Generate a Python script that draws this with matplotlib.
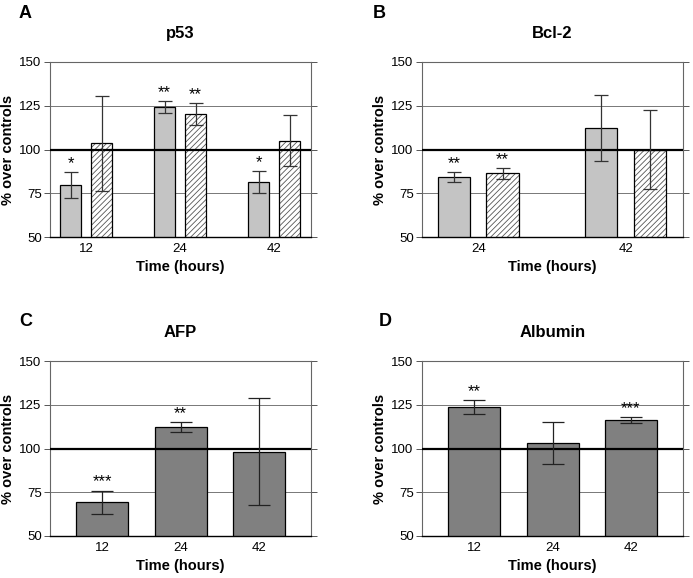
import numpy as np
import matplotlib
matplotlib.use("Agg")
import matplotlib.pyplot as plt

plt.rcParams['font.family'] = ['Liberation Sans', 'DejaVu Sans']
plt.rcParams['hatch.linewidth'] = 0.6
plt.rcParams['hatch.color'] = '#555555'

# panel A - p53
p53_times = ['12', '24', '42']
p53_grey = [79.6, 124.4, 81.5]
p53_grey_err = [7.5, 3.5, 6.2]
p53_hatch = [103.5, 120.2, 105.1]
p53_hatch_err = [27.0, 6.4, 14.7]
p53_grey_stars = ['*', '**', '*']
p53_hatch_stars = ['', '**', '']

# panel B - Bcl-2
bcl_times = ['24', '42']
bcl_grey = [84.4, 112.3]
bcl_grey_err = [2.9, 18.8]
bcl_hatch = [86.3, 100.0]
bcl_hatch_err = [3.4, 22.4]
bcl_grey_stars = ['**', '']
bcl_hatch_stars = ['**', '']

# panel C - AFP
afp_times = ['12', '24', '42']
afp_vals = [69.4, 112.3, 98.2]
afp_err = [6.6, 2.7, 30.4]
afp_stars = ['***', '**', '']

# panel D - Albumin
alb_times = ['12', '24', '42']
alb_vals = [123.7, 103.3, 116.3]
alb_err = [4.0, 11.9, 1.7]
alb_stars = ['**', '', '***']

W, H = 693, 578
fig = plt.figure(figsize=(W / 100, H / 100), dpi=100)


def make_ax(left_px, top_px):
    ax = fig.add_axes([left_px / W, 1 - (top_px + 175) / H, 261 / W, 175 / H])
    ax.set_ylim(50, 150)
    ax.set_yticks([50, 75, 100, 125, 150])
    for y in [75, 125]:
        ax.axhline(y, color='#777777', lw=0.7, zorder=0)
    ax.axhline(100, color='black', lw=1.6, zorder=3)
    for s in ['left', 'right', 'top']:
        ax.spines[s].set_color('#666666')
        ax.spines[s].set_linewidth(0.8)
    ax.spines['bottom'].set_color('black')
    ax.spines['bottom'].set_linewidth(1.0)
    ax.tick_params(axis='y', direction='out', length=4, width=0.7, color='#555555',
                   right=True, labelsize=9.5, pad=2)
    ax.tick_params(axis='x', length=0, labelsize=9.5, pad=4)
    ax.set_ylabel('% over controls', fontsize=10.5, fontweight='bold', labelpad=3)
    ax.set_xlabel('Time (hours)', fontsize=10.5, fontweight='bold', labelpad=4)
    return ax


def stars(ax, x, top, labels):
    for xi, t, lab in zip(x, top, labels):
        if lab:
            ax.text(xi, t + 0.5, lab, ha='center', va='bottom', fontsize=12, zorder=6)


def paired(ax, times, grey, grey_err, hatch, hatch_err, gstars, hstars):
    x = np.arange(len(times))
    off, w = 0.165, 0.22
    ax.bar(x - off, grey, w, color='#c4c4c4', edgecolor='black', lw=0.9, zorder=2)
    ax.bar(x + off, hatch, w, color='white', edgecolor='#555555', hatch='//////', lw=0, zorder=2)
    ax.bar(x + off, hatch, w, color='none', edgecolor='black', lw=0.9, zorder=2)
    ax.errorbar(x - off, grey, yerr=grey_err, fmt='none', ecolor='#333333', elinewidth=0.9,
                capsize=5, capthick=0.9, zorder=5)
    ax.errorbar(x + off, hatch, yerr=hatch_err, fmt='none', ecolor='#333333', elinewidth=0.9,
                capsize=5, capthick=0.9, zorder=5)
    stars(ax, x - off, np.array(grey) + np.array(grey_err), gstars)
    stars(ax, x + off, np.array(hatch) + np.array(hatch_err), hstars)
    ax.set_xticks(x)
    ax.set_xticklabels(times)
    ax.set_xlim(-0.383, len(times) - 1 + 0.39)


def single(ax, times, vals, err, st):
    x = np.arange(len(times))
    ax.bar(x, vals, 0.664, color='#808080', edgecolor='black', lw=0.9, zorder=2)
    ax.errorbar(x, vals, yerr=err, fmt='none', ecolor='#222222', elinewidth=0.9,
                capsize=8, capthick=0.9, zorder=5)
    stars(ax, x, np.array(vals) + np.array(err), st)
    ax.set_xticks(x)
    ax.set_xticklabels(times)
    ax.set_xlim(-0.668, 2.665)


axA = make_ax(50, 62)
paired(axA, p53_times, p53_grey, p53_grey_err, p53_hatch, p53_hatch_err, p53_grey_stars, p53_hatch_stars)
axB = make_ax(422, 62)
paired(axB, bcl_times, bcl_grey, bcl_grey_err, bcl_hatch, bcl_hatch_err, bcl_grey_stars, bcl_hatch_stars)
axC = make_ax(50, 361)
single(axC, afp_times, afp_vals, afp_err, afp_stars)
axD = make_ax(422, 361)
single(axD, alb_times, alb_vals, alb_err, alb_stars)

for ax, title in zip([axA, axB, axC, axD], ['p53', 'Bcl-2', 'AFP', 'Albumin']):
    ax.set_title(title, fontsize=12, fontweight='bold', pad=17)

for lab, xp, yp in [('A', 19, 14), ('B', 373, 14), ('C', 19, 321), ('D', 379, 321)]:
    fig.text(xp / W, 1 - yp / H, lab, fontsize=13, fontweight='bold', ha='left', va='center')

fig.savefig('out.png', dpi=100)
